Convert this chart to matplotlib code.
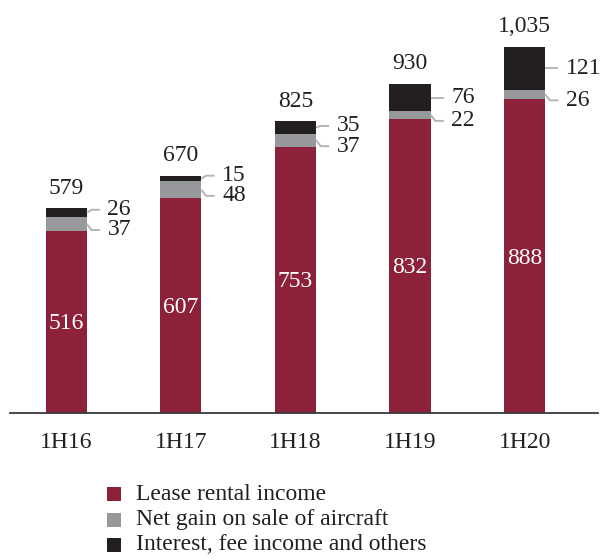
import matplotlib
matplotlib.use('Agg')
import matplotlib.pyplot as plt
from matplotlib.patches import Rectangle

periods = ['1H16', '1H17', '1H18', '1H19', '1H20']
lease = [516, 607, 753, 832, 888]
net_gain = [37, 48, 37, 22, 26]
interest = [26, 15, 35, 76, 121]
totals = ['579', '670', '825', '930', '1,035']
legend_labels = ['Lease rental income', 'Net gain on sale of aircraft',
                 'Interest, fee income and others']

C_LEASE = '#8c2139'
C_GAIN = '#97989b'
C_INT = '#231f20'
C_LINE = '#b4b5b7'

plt.rcParams['font.family'] = ['Liberation Serif', 'DejaVu Serif']

fig = plt.figure(figsize=(6.03, 5.6), dpi=100)
ax = fig.add_axes([10 / 603, 147 / 560, 588 / 603, 400 / 560])

x = list(range(len(periods)))
w = 0.36
ax.bar(x, lease, w, color=C_LEASE)
ax.bar(x, net_gain, w, bottom=lease, color=C_GAIN)
base3 = [a + b for a, b in zip(lease, net_gain)]
ax.bar(x, interest, w, bottom=base3, color=C_INT)

ax.set_xlim(-0.49, 4.64)
ax.set_ylim(0, 1131)

fs = 17
for i in x:
    top = base3[i] + interest[i]
    ax.text(i, lease[i] / 2 - 6, str(lease[i]), color='white', ha='center',
            va='center', fontsize=fs)
    ax.text(i, top + 57, totals[i], ha='center', va='center', fontsize=fs,
            color='#231f20')
    # side labels with leader lines
    g_mid = lease[i] + net_gain[i] / 2
    b_mid = base3[i] + interest[i] / 2
    g_lab = g_mid - 17
    b_lab = max(b_mid, g_lab + 57)
    xr = i + w / 2
    for mid, lab, val in ((g_mid, g_lab, net_gain[i]), (b_mid, b_lab, interest[i])):
        ax.plot([xr, xr + 0.04, xr + 0.115], [mid, lab, lab], color=C_LINE,
                lw=1.4, solid_capstyle='butt', clip_on=False)
        ax.text(xr + 0.18, lab, str(val), ha='left', va='center', fontsize=fs,
                color='#231f20')

for s in ('top', 'right', 'left'):
    ax.spines[s].set_visible(False)
ax.spines['bottom'].set_color('#3a3a3a')
ax.spines['bottom'].set_linewidth(1.3)
ax.set_yticks([])
ax.set_xticks(x)
ax.set_xticklabels(periods, fontsize=fs, color='#231f20')
ax.tick_params(axis='x', length=0, pad=14)

# legend
colors = [C_LEASE, C_GAIN, C_INT]
for k, (lab, c) in enumerate(zip(legend_labels, colors)):
    yc = 1 - (494 + 25.5 * k) / 560
    fig.add_artist(Rectangle((107 / 603, yc - 7 / 560), 14 / 603, 14 / 560,
                             transform=fig.transFigure, color=c, lw=0))
    fig.text(136 / 603, yc, lab, ha='left', va='center', fontsize=17,
             color='#231f20')

fig.savefig('out.png', dpi=100)
